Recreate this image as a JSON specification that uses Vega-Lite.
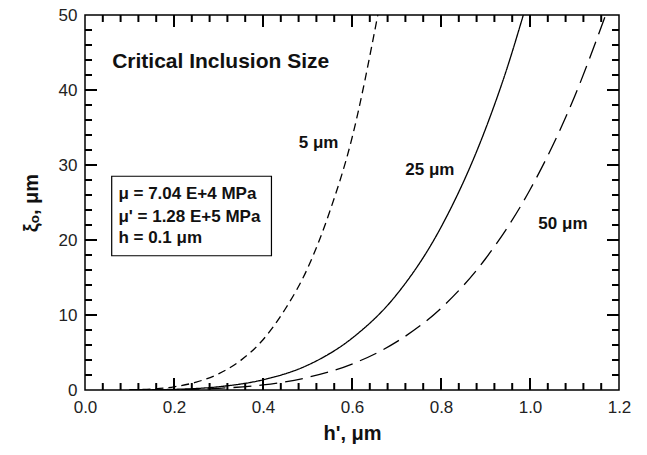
{
  "$schema": "https://vega.github.io/schema/vega-lite/v6.json",
  "width": 534,
  "height": 375,
  "autosize": "none",
  "padding": {"left": 85, "top": 15, "right": 28, "bottom": 65},
  "background": "white",
  "config": {
    "view": {"stroke": "black", "strokeWidth": 1.5},
    "font": "Liberation Sans"
  },
  "datasets": {
    "curves": [
      {"s": "5", "h": 0.1, "xi": 0.03}, {"s": "5", "h": 0.15, "xi": 0.13}, {"s": "5", "h": 0.2, "xi": 0.42},
      {"s": "5", "h": 0.25, "xi": 1.05}, {"s": "5", "h": 0.3, "xi": 2.15}, {"s": "5", "h": 0.35, "xi": 3.95},
      {"s": "5", "h": 0.4, "xi": 6.7}, {"s": "5", "h": 0.45, "xi": 10.8}, {"s": "5", "h": 0.5, "xi": 16.2},
      {"s": "5", "h": 0.55, "xi": 23.8}, {"s": "5", "h": 0.6, "xi": 33.6}, {"s": "5", "h": 0.658, "xi": 50},
      {"s": "25", "h": 0.1, "xi": 0.005}, {"s": "25", "h": 0.2, "xi": 0.085}, {"s": "25", "h": 0.3, "xi": 0.43},
      {"s": "25", "h": 0.4, "xi": 1.36}, {"s": "25", "h": 0.5, "xi": 3.3}, {"s": "25", "h": 0.6, "xi": 6.9},
      {"s": "25", "h": 0.7, "xi": 12.7}, {"s": "25", "h": 0.8, "xi": 21.7}, {"s": "25", "h": 0.9, "xi": 34.8},
      {"s": "25", "h": 0.95, "xi": 43.2}, {"s": "25", "h": 0.985, "xi": 50},
      {"s": "50", "h": 0.1, "xi": 0.003}, {"s": "50", "h": 0.2, "xi": 0.043}, {"s": "50", "h": 0.3, "xi": 0.22},
      {"s": "50", "h": 0.4, "xi": 0.68}, {"s": "50", "h": 0.5, "xi": 1.67}, {"s": "50", "h": 0.6, "xi": 3.46},
      {"s": "50", "h": 0.7, "xi": 6.41}, {"s": "50", "h": 0.8, "xi": 10.9}, {"s": "50", "h": 0.9, "xi": 17.5},
      {"s": "50", "h": 1.0, "xi": 26.7}, {"s": "50", "h": 1.1, "xi": 39.1}, {"s": "50", "h": 1.17, "xi": 50}
    ],
    "labels": [
      {"t": "5 μm", "h": 0.525, "xi": 32.9},
      {"t": "25 μm", "h": 0.775, "xi": 29.3},
      {"t": "50 μm", "h": 1.074, "xi": 22.1}
    ],
    "box": [{"h1": 0.06, "h2": 0.419, "y1": 17.9, "y2": 28.5}],
    "boxtext": [
      {"t": "μ = 7.04 E+4 MPa", "h": 0.075, "xi": 26.1},
      {"t": "μ' = 1.28 E+5 MPa", "h": 0.075, "xi": 23.1},
      {"t": "h = 0.1 μm", "h": 0.075, "xi": 20.3}
    ],
    "title": [{"t": "Critical Inclusion Size", "h": 0.061, "xi": 43.7}],
    "xticks": [
      {"v": 0.04, "lo": 0, "hi": 0.93}, {"v": 0.08, "lo": 0, "hi": 0.93}, {"v": 0.12, "lo": 0, "hi": 0.93}, {"v": 0.16, "lo": 0, "hi": 0.93},
      {"v": 0.2, "lo": 0, "hi": 1.6},
      {"v": 0.24, "lo": 0, "hi": 0.93}, {"v": 0.28, "lo": 0, "hi": 0.93}, {"v": 0.32, "lo": 0, "hi": 0.93}, {"v": 0.36, "lo": 0, "hi": 0.93},
      {"v": 0.4, "lo": 0, "hi": 1.6},
      {"v": 0.44, "lo": 0, "hi": 0.93}, {"v": 0.48, "lo": 0, "hi": 0.93}, {"v": 0.52, "lo": 0, "hi": 0.93}, {"v": 0.56, "lo": 0, "hi": 0.93},
      {"v": 0.6, "lo": 0, "hi": 1.6},
      {"v": 0.64, "lo": 0, "hi": 0.93}, {"v": 0.68, "lo": 0, "hi": 0.93}, {"v": 0.72, "lo": 0, "hi": 0.93}, {"v": 0.76, "lo": 0, "hi": 0.93},
      {"v": 0.8, "lo": 0, "hi": 1.6},
      {"v": 0.84, "lo": 0, "hi": 0.93}, {"v": 0.88, "lo": 0, "hi": 0.93}, {"v": 0.92, "lo": 0, "hi": 0.93}, {"v": 0.96, "lo": 0, "hi": 0.93},
      {"v": 1.0, "lo": 0, "hi": 1.6},
      {"v": 1.04, "lo": 0, "hi": 0.93}, {"v": 1.08, "lo": 0, "hi": 0.93}, {"v": 1.12, "lo": 0, "hi": 0.93}, {"v": 1.16, "lo": 0, "hi": 0.93},
      {"v": 0.04, "lo": 49.07, "hi": 50}, {"v": 0.08, "lo": 49.07, "hi": 50}, {"v": 0.12, "lo": 49.07, "hi": 50}, {"v": 0.16, "lo": 49.07, "hi": 50},
      {"v": 0.2, "lo": 48.4, "hi": 50},
      {"v": 0.24, "lo": 49.07, "hi": 50}, {"v": 0.28, "lo": 49.07, "hi": 50}, {"v": 0.32, "lo": 49.07, "hi": 50}, {"v": 0.36, "lo": 49.07, "hi": 50},
      {"v": 0.4, "lo": 48.4, "hi": 50},
      {"v": 0.44, "lo": 49.07, "hi": 50}, {"v": 0.48, "lo": 49.07, "hi": 50}, {"v": 0.52, "lo": 49.07, "hi": 50}, {"v": 0.56, "lo": 49.07, "hi": 50},
      {"v": 0.6, "lo": 48.4, "hi": 50},
      {"v": 0.64, "lo": 49.07, "hi": 50}, {"v": 0.68, "lo": 49.07, "hi": 50}, {"v": 0.72, "lo": 49.07, "hi": 50}, {"v": 0.76, "lo": 49.07, "hi": 50},
      {"v": 0.8, "lo": 48.4, "hi": 50},
      {"v": 0.84, "lo": 49.07, "hi": 50}, {"v": 0.88, "lo": 49.07, "hi": 50}, {"v": 0.92, "lo": 49.07, "hi": 50}, {"v": 0.96, "lo": 49.07, "hi": 50},
      {"v": 1.0, "lo": 48.4, "hi": 50},
      {"v": 1.04, "lo": 49.07, "hi": 50}, {"v": 1.08, "lo": 49.07, "hi": 50}, {"v": 1.12, "lo": 49.07, "hi": 50}, {"v": 1.16, "lo": 49.07, "hi": 50}
    ],
    "yticks": [
      {"v": 2, "lo": 0, "hi": 0.0157}, {"v": 4, "lo": 0, "hi": 0.0157}, {"v": 6, "lo": 0, "hi": 0.0157}, {"v": 8, "lo": 0, "hi": 0.0157},
      {"v": 10, "lo": 0, "hi": 0.027},
      {"v": 12, "lo": 0, "hi": 0.0157}, {"v": 14, "lo": 0, "hi": 0.0157}, {"v": 16, "lo": 0, "hi": 0.0157}, {"v": 18, "lo": 0, "hi": 0.0157},
      {"v": 20, "lo": 0, "hi": 0.027},
      {"v": 22, "lo": 0, "hi": 0.0157}, {"v": 24, "lo": 0, "hi": 0.0157}, {"v": 26, "lo": 0, "hi": 0.0157}, {"v": 28, "lo": 0, "hi": 0.0157},
      {"v": 30, "lo": 0, "hi": 0.027},
      {"v": 32, "lo": 0, "hi": 0.0157}, {"v": 34, "lo": 0, "hi": 0.0157}, {"v": 36, "lo": 0, "hi": 0.0157}, {"v": 38, "lo": 0, "hi": 0.0157},
      {"v": 40, "lo": 0, "hi": 0.027},
      {"v": 42, "lo": 0, "hi": 0.0157}, {"v": 44, "lo": 0, "hi": 0.0157}, {"v": 46, "lo": 0, "hi": 0.0157}, {"v": 48, "lo": 0, "hi": 0.0157},
      {"v": 2, "lo": 1.1843, "hi": 1.2}, {"v": 4, "lo": 1.1843, "hi": 1.2}, {"v": 6, "lo": 1.1843, "hi": 1.2}, {"v": 8, "lo": 1.1843, "hi": 1.2},
      {"v": 10, "lo": 1.173, "hi": 1.2},
      {"v": 12, "lo": 1.1843, "hi": 1.2}, {"v": 14, "lo": 1.1843, "hi": 1.2}, {"v": 16, "lo": 1.1843, "hi": 1.2}, {"v": 18, "lo": 1.1843, "hi": 1.2},
      {"v": 20, "lo": 1.173, "hi": 1.2},
      {"v": 22, "lo": 1.1843, "hi": 1.2}, {"v": 24, "lo": 1.1843, "hi": 1.2}, {"v": 26, "lo": 1.1843, "hi": 1.2}, {"v": 28, "lo": 1.1843, "hi": 1.2},
      {"v": 30, "lo": 1.173, "hi": 1.2},
      {"v": 32, "lo": 1.1843, "hi": 1.2}, {"v": 34, "lo": 1.1843, "hi": 1.2}, {"v": 36, "lo": 1.1843, "hi": 1.2}, {"v": 38, "lo": 1.1843, "hi": 1.2},
      {"v": 40, "lo": 1.173, "hi": 1.2},
      {"v": 42, "lo": 1.1843, "hi": 1.2}, {"v": 44, "lo": 1.1843, "hi": 1.2}, {"v": 46, "lo": 1.1843, "hi": 1.2}, {"v": 48, "lo": 1.1843, "hi": 1.2}
    ]
  },
  "layer": [
    {
      "data": {"name": "curves"},
      "mark": {"type": "line", "interpolate": "monotone", "color": "black", "strokeWidth": 1.3, "clip": true},
      "encoding": {
        "x": {
          "field": "h", "type": "quantitative",
          "scale": {"domain": [0, 1.2], "nice": false, "zero": false},
          "axis": {
            "orient": "bottom", "domain": false, "ticks": false, "tickSize": 0,
            "values": [0, 0.2, 0.4, 0.6, 0.8, 1.0, 1.2],
            "format": ".1f",
            "title": "h', μm",
            "titleFontSize": 20, "titleFontWeight": "bold", "titleColor": "#111", "titlePadding": 8,
            "labelFontSize": 17, "labelColor": "#222",
            "labelOverlap": false, "labelFlush": false, "labelPadding": 9,
            "grid": false
          }
        },
        "y": {
          "field": "xi", "type": "quantitative",
          "scale": {"domain": [0, 50], "nice": false, "zero": false},
          "axis": {
            "orient": "left", "domain": false, "ticks": false, "tickSize": 0,
            "values": [0, 10, 20, 30, 40, 50],
            "title": "ξₒ, μm",
            "titleFontSize": 20, "titleFontWeight": "bold", "titleColor": "#111", "titlePadding": 17,
            "labelFontSize": 17, "labelColor": "#222",
            "labelOverlap": false, "labelFlush": false, "labelPadding": 8,
            "grid": false
          }
        },
        "strokeDash": {
          "field": "s", "type": "nominal",
          "scale": {"domain": ["5", "25", "50"], "range": [[8, 5], [1, 0], [18, 8]]},
          "legend": null
        }
      }
    },
    {
      "data": {"name": "xticks"},
      "mark": {"type": "rule", "color": "#000000", "strokeWidth": 2},
      "encoding": {"x": {"field": "v", "type": "quantitative"}, "y": {"field": "lo", "type": "quantitative"}, "y2": {"field": "hi"}}
    },
    {
      "data": {"name": "yticks"},
      "mark": {"type": "rule", "color": "#000000", "strokeWidth": 2},
      "encoding": {"y": {"field": "v", "type": "quantitative"}, "x": {"field": "lo", "type": "quantitative"}, "x2": {"field": "hi"}}
    },
    {
      "data": {"name": "labels"},
      "mark": {"type": "text", "fontSize": 17, "fontWeight": "bold", "color": "#111", "align": "center", "baseline": "middle"},
      "encoding": {
        "x": {"field": "h", "type": "quantitative"},
        "y": {"field": "xi", "type": "quantitative"},
        "text": {"field": "t"}
      }
    },
    {
      "data": {"name": "box"},
      "mark": {"type": "rect", "fill": "white", "stroke": "black", "strokeWidth": 1.2},
      "encoding": {
        "x": {"field": "h1", "type": "quantitative"},
        "x2": {"field": "h2"},
        "y": {"field": "y1", "type": "quantitative"},
        "y2": {"field": "y2"}
      }
    },
    {
      "data": {"name": "boxtext"},
      "mark": {"type": "text", "fontSize": 17, "fontWeight": "bold", "color": "#111", "align": "left", "baseline": "middle"},
      "encoding": {
        "x": {"field": "h", "type": "quantitative"},
        "y": {"field": "xi", "type": "quantitative"},
        "text": {"field": "t"}
      }
    },
    {
      "data": {"name": "title"},
      "mark": {"type": "text", "fontSize": 21, "fontWeight": "bold", "color": "#111", "align": "left", "baseline": "middle"},
      "encoding": {
        "x": {"field": "h", "type": "quantitative"},
        "y": {"field": "xi", "type": "quantitative"},
        "text": {"field": "t"}
      }
    }
  ]
}
